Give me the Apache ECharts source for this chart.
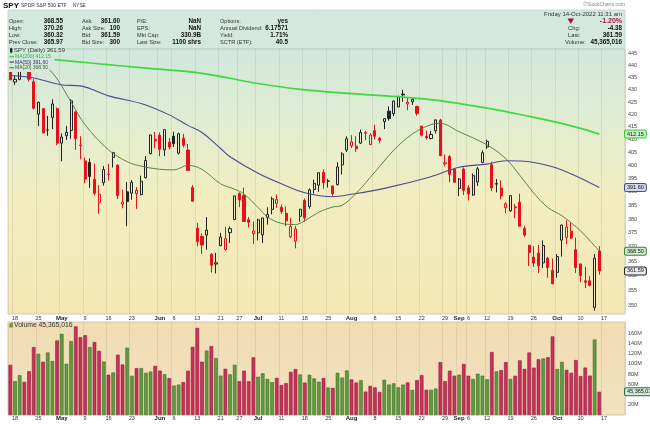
<!DOCTYPE html>
<html><head><meta charset="utf-8">
<script src="https://cdn.jsdelivr.net/npm/echarts@6/dist/echarts.min.js"></script>
<style>html,body{margin:0;padding:0;background:#fff}#c{width:650px;height:424px}</style>
</head><body><div id="c"></div>
<script>
// ---------- DATA (dividend-adjusted prices as drawn) ----------
const categories = ['04-14','04-18','04-19','04-20','04-21','04-22','04-25','04-26','04-27','04-28','04-29',
'05-02','05-03','05-04','05-05','05-06','05-09','05-10','05-11','05-12','05-13','05-16','05-17','05-18','05-19','05-20','05-23','05-24','05-25','05-26','05-27','05-31',
'06-01','06-02','06-03','06-06','06-07','06-08','06-09','06-10','06-13','06-14','06-15','06-16','06-17','06-21','06-22','06-23','06-24','06-27','06-28','06-29','06-30',
'07-01','07-05','07-06','07-07','07-08','07-11','07-12','07-13','07-14','07-15','07-18','07-19','07-20','07-21','07-22','07-25','07-26','07-27','07-28','07-29',
'08-01','08-02','08-03','08-04','08-05','08-08','08-09','08-10','08-11','08-12','08-15','08-16','08-17','08-18','08-19','08-22','08-23','08-24','08-25','08-26','08-29','08-30','08-31',
'09-01','09-02','09-06','09-07','09-08','09-09','09-12','09-13','09-14','09-15','09-16','09-19','09-20','09-21','09-22','09-23','09-26','09-27','09-28','09-29','09-30',
'10-03','10-04','10-05','10-06','10-07','10-10','10-11','10-12','10-13','10-14',
'10-17','10-18','10-19','10-20','10-21'];

const opens = [439.8,433.2,434.2,443.2,444.8,433.3,420.1,422.3,413.8,418.8,422.3,
408.6,411.5,413.6,421.0,407.7,401.7,401.1,394.7,386.1,393.4,396.6,403.1,400.1,385.4,390.0,389.5,389.3,389.0,395.3,404.5,410.1,
411.7,406.0,409.0,411.3,404.7,410.5,405.9,391.6,376.7,373.7,374.2,367.4,364.0,370.4,369.1,375.1,379.8,389.4,388.6,379.7,374.7,
375.0,374.3,380.5,383.5,385.7,384.3,382.1,373.6,372.1,381.0,386.8,384.5,390.9,392.5,397.3,394.1,392.2,392.7,400.2,405.9,
407.5,407.4,408.6,412.7,408.0,413.5,410.5,417.1,421.3,420.3,423.0,428.2,424.2,425.1,423.2,415.3,411.2,410.4,413.5,417.7,400.6,403.4,398.6,
391.3,398.6,391.5,388.8,393.7,401.1,407.1,400.2,392.9,391.4,384.1,383.0,384.4,386.1,376.6,370.6,366.4,367.8,364.4,366.0,361.8,
361.1,372.4,373.3,375.6,369.0,364.0,358.2,358.2,349.2,368.55];

const highs = [441.0,436.1,442.1,443.8,446.3,434.4,425.1,422.5,419.4,426.1,422.8,
412.4,415.4,426.1,421.4,411.3,403.0,402.7,400.7,392.5,399.8,400.6,405.2,400.4,390.8,393.7,394.4,391.8,396.1,403.6,411.9,413.0,
412.8,414.0,410.6,413.1,412.7,412.3,408.3,392.5,378.6,374.8,380.7,367.8,367.9,375.0,377.2,377.3,388.5,389.8,391.6,380.7,379.1,
380.1,380.4,384.3,388.2,389.0,385.3,384.6,380.4,377.5,383.7,387.5,391.3,394.6,397.2,398.5,394.8,392.4,401.2,405.1,411.3,
411.7,411.3,414.0,413.4,412.5,415.9,411.1,418.4,423.2,425.5,427.6,430.0,426.9,426.9,423.5,415.3,413.5,413.4,417.8,418.2,404.2,403.9,398.9,
395.2,399.2,392.5,396.9,399.4,405.8,410.0,401.4,394.8,394.3,386.2,388.7,385.4,389.3,377.6,370.6,370.2,370.7,372.3,366.5,365.9,
367.5,378.0,379.5,378.7,373.3,364.2,363.0,359.8,367.5,370.26];

const lows = [434.0,432.0,434.0,439.8,433.4,421.9,415.3,412.6,411.5,414.1,407.8,
401.6,409.9,410.3,406.0,402.3,393.2,391.5,388.7,381.9,392.3,394.3,399.2,387.3,383.9,377.4,387.1,383.7,388.6,395.1,404.3,406.6,
403.5,403.6,406.1,407.1,404.2,407.0,398.1,386.5,370.2,367.5,369.0,361.0,360.7,370.3,368.7,371.4,379.8,384.3,379.0,376.9,371.0,
372.3,371.4,378.0,381.7,384.1,381.9,377.4,373.1,369.5,379.0,379.1,383.8,389.4,390.0,391.1,391.6,388.4,392.4,396.5,405.1,
406.7,405.2,408.3,409.8,407.9,410.1,408.5,414.1,417.5,419.3,422.9,425.1,421.7,423.8,419.5,411.2,410.1,410.1,412.4,403.6,399.6,393.6,393.4,
388.4,388.8,386.8,388.6,392.2,400.8,406.4,390.3,389.8,387.2,382.1,382.6,380.3,377.4,373.5,363.3,363.0,360.9,362.6,359.2,357.0,
359.3,366.6,371.0,372.8,360.9,357.7,355.7,356.3,348.1,360.32];

const closes = [434.1,434.3,441.3,441.0,434.4,422.5,424.9,412.6,413.8,424.2,408.6,
411.0,412.9,425.5,410.4,407.9,394.8,395.8,389.5,389.1,398.4,396.7,404.9,388.6,386.2,386.4,393.6,390.6,394.0,401.9,411.8,409.5,
406.2,413.9,407.1,408.4,412.3,407.8,398.1,386.5,371.9,370.7,376.0,363.6,364.4,373.5,372.9,376.5,388.5,387.0,379.1,378.8,375.7,
379.7,380.4,381.7,387.4,387.1,382.7,379.3,377.3,376.4,383.6,380.4,390.7,393.2,397.2,393.5,394.0,389.3,399.4,404.4,410.3,
409.1,406.4,412.8,412.5,411.8,411.3,409.7,418.3,418.3,425.4,427.1,427.9,424.9,426.1,420.4,411.7,410.7,412.0,417.8,403.7,401.0,396.6,393.6,
394.8,390.6,389.2,396.1,398.7,404.9,409.3,391.5,393.1,388.5,385.6,388.6,384.1,377.4,374.2,368.0,364.3,363.4,370.5,362.8,357.2,
366.6,377.8,377.1,373.2,362.8,360.0,357.7,356.6,366.0,361.59];

const prevCloseStart = 439.6;

// volume, millions of shares
const volumes = [97.9,66.0,77.8,64.7,85.4,132.5,119.6,103.9,122.0,105.4,145.5,
158.3,100.0,144.2,172.9,151.8,155.6,132.5,142.4,125.1,104.2,78.6,83.0,117.7,98.5,131.4,76.4,91.4,91.5,82.2,84.8,95.9,
86.6,79.6,71.9,57.5,59.3,64.4,86.3,132.9,170.0,104.0,125.7,134.5,111.1,76.8,90.1,79.3,98.1,66.0,86.5,65.7,112.5,
74.8,81.4,70.4,64.0,72.4,58.4,62.2,84.2,89.7,79.1,63.2,78.5,71.4,64.9,72.2,53.6,52.9,82.3,73.0,86.9,
69.4,63.4,67.8,45.7,56.8,53.9,44.9,68.7,59.4,61.7,54.0,59.3,63.6,49.0,68.0,77.7,49.2,49.2,51.6,103.1,65.9,86.4,76.6,
78.7,99.6,76.6,70.4,80.6,76.7,69.7,122.9,85.1,87.6,103.1,70.4,76.5,106.6,89.9,122.0,92.4,108.6,110.3,112.7,153.4,
89.8,103.6,88.1,82.3,107.3,76.0,92.5,76.9,147.3,45.365016];

const ma200 = [['04-14',443.8],['04-29',442.5],['05-12',440.8],['05-26',439.0],['06-14',436.8],['07-01',432.6],
['07-15',430.2],['08-01',428.4],['08-16',427.0],['08-25',425.8],['09-12',422.5],['09-23',419.2],['10-03',416.8],
['10-10',414.4],['10-14',412.15]];
const ma50 = [['04-14',435.9],['04-22',434.9],['05-02',432.0],['05-06',431.6],['05-16',427.5],['05-25',424.4],
['06-03',419.8],['06-09',415.6],['06-14',412.8],['06-21',406.5],['06-23',403.3],['07-01',397.0],['07-11',393.0],
['07-18',389.7],['07-26',388.2],['08-01',389.1],['08-10',391.3],['08-24',395.7],['09-01',399.3],['09-12',400.5],
['09-16',401.8],['09-23',401.4],['09-30',399.5],['10-07',396.0],['10-14',391.6]];
const ma20 = [['04-25',441.0],['04-27',438.9],['04-29',434.5],['05-04',425.0],['05-09',415.8],['05-16',406.0],
['05-20',401.4],['05-25',399.7],['06-01',398.5],['06-06',398.3],['06-09',400.0],['06-14',398.5],['06-21',393.0],
['06-24',391.0],['06-28',389.2],['07-01',384.2],['07-06',380.8],['07-11',378.4],['07-14',378.0],['07-18',379.4],
['07-21',382.5],['07-26',384.4],['07-28',385.0],['08-02',389.5],['08-08',397.5],['08-12',405.8],['08-18',412.2],
['08-24',415.9],['08-26',416.4],['09-01',413.1],['09-12',407.9],['09-16',402.6],['09-21',396.2],['09-26',389.5],
['09-29',384.2],['10-04',381.2],['10-07',377.2],['10-11',374.0],['10-14',368.5]];

const priceTicks = [350,355,360,365,370,375,380,385,390,395,400,405,410,415,420,425,430,435,440,445];
const tickDates = ['04-18','04-25','05-02','05-09','05-16','05-23','06-01','06-06','06-13','06-21','06-27','07-01',
'07-11','07-18','07-25','08-01','08-08','08-15','08-22','08-29','09-01','09-06','09-12','09-19','09-26','10-03','10-10','10-17'];
const tickTexts = ['18','25','May','9','16','23','Jun','6','13','21','27','Jul','11','18','25','Aug','8','15','22','29',
'Sep','6','12','19','26','Oct','10','17'];

// ---------- BUILD ----------
const FF = "'Liberation Sans', Arial, Helvetica, sans-serif";
const tickSet = new Set(tickDates);
const tickMap = {}; tickDates.forEach((d, i) => tickMap[d] = tickTexts[i]);
const isMonth = t => /^[A-Z]/.test(t);
const xIntervalFn = (i, v) => tickSet.has(v);
function xLabel(margin) {
  return {
    interval: xIntervalFn, margin, fontSize: 5.5, color: '#333', fontFamily: FF,
    formatter: v => { const t = tickMap[v] || ''; return isMonth(t) ? '{m|' + t + '}' : t; },
    rich: { m: { fontWeight: 'bold', fontSize: 6, color: '#222', fontFamily: FF } }
  };
}

const candleData = opens.map((o, i) => {
  const c = closes[i], prev = i === 0 ? prevCloseStart : closes[i - 1];
  const col = c >= prev ? '#222222' : '#e3121b';
  const fill = c >= o ? 'rgba(0,0,0,0)' : col;
  return { value: [o, c, lows[i], highs[i]], itemStyle: { color: fill, color0: fill, borderColor: col, borderColor0: col, borderWidth: 1 } };
});
const volData = volumes.map((v, i) => {
  const c = closes[i], prev = i === 0 ? prevCloseStart : closes[i - 1];
  const up = c >= prev;
  return { value: v, itemStyle: { color: up ? '#5f9a3e' : '#cc2f5c', borderColor: up ? '#3d6e27' : '#8c1d3d', borderWidth: 0.6 } };
});

const lastClose = closes[closes.length - 1];
const lastVol = volumes[volumes.length - 1];
const last = a => a[a.length - 1][1];

const clearLine = { color: 'rgba(0,0,0,0)', width: 0 };
function boxLabel(bg, border, fmt) {
  return { show: true, position: 'end', distance: 0, formatter: fmt, fontSize: 5.5, fontFamily: FF, color: '#111',
    backgroundColor: bg, borderColor: border, borderWidth: 1, borderRadius: 1.5, padding: [1, 2, 0, 2] };
}

const priceGrad = { type: 'linear', x: 0, y: 49, x2: 0, y2: 314, global: true, colorStops: [
  { offset: 0, color: '#d1e8de' }, { offset: 0.3, color: '#e3edd0' }, { offset: 0.55, color: '#f1eec0' }, { offset: 1, color: '#f4e6b4' }] };
const volGrad = { type: 'linear', x: 0, y: 322, x2: 0, y2: 415, global: true, colorStops: [
  { offset: 0, color: '#f1dcb3' }, { offset: 1, color: '#f2e2bf' }] };

function txt(text, x, y, size, opt) {
  return { type: 'text', x, y, z: 100, silent: true,
    style: Object.assign({ text, fontSize: size, fontFamily: FF, fill: '#333', align: 'left', verticalAlign: 'middle' }, opt || {}) };
}
function rect(x, y, w, h, fill, z, stroke) {
  const r = { type: 'rect', z, silent: true, shape: { x, y, width: w, height: h }, style: { fill } };
  if (stroke) { r.style.stroke = stroke; r.style.lineWidth = 0.8; }
  return r;
}

const rows = [21, 28, 35, 42];
const infoCols = [
  { lx: 9, vx: 63, labels: ['Open:', 'High:', 'Low:', 'Prev Close:'], values: ['368.55', '370.26', '360.32', '365.97'] },
  { lx: 82, vx: 120, labels: ['Ask:', 'Ask Size:', 'Bid:', 'Bid Size:'], values: ['361.60', '100', '361.59', '300'] },
  { lx: 137, vx: 201, labels: ['P/E:', 'EPS:', 'Mkt Cap:', 'Last Size:'], values: ['NaN', 'NaN', '330.9B', '1100 shrs'] },
  { lx: 220, vx: 288, labels: ['Options:', 'Annual Dividend:', 'Yield:', 'SCTR (ETF):'], values: ['yes', '6.17571', '1.71%', '40.5'] }
];

const g = [];
g.push(rect(8, 49, 617, 265, priceGrad, 0, '#c4c4b4'));
g.push(rect(8, 322, 617, 93, volGrad, 0, '#c8bca0'));
g.push(rect(8, 10, 617, 38.5, '#d3e9de', 0, '#bcd4c7'));
// header
g.push(txt('SPY', 3, 5.5, 8, { fontWeight: 'bold', fill: '#111' }));
g.push(txt('SPDR S&P 500 ETF', 21, 5.8, 5, { fill: '#333' }));
g.push(txt('NYSE', 73, 6, 4.6, { fill: '#333' }));
g.push(txt('\u00a9StockCharts.com', 625, 5, 5, { fill: '#888', align: 'right' }));
// info box
infoCols.forEach(col => {
  col.labels.forEach((l, i) => g.push(txt(l, col.lx, rows[i], 5.6, { fill: '#333' })));
  col.values.forEach((v, i) => g.push(txt(v, col.vx, rows[i], 6.3, { fill: '#111', fontWeight: 'bold', align: 'right' })));
});
g.push(txt('Friday 14-Oct-2022 11:31 am', 622, 14.3, 6, { align: 'right', fill: '#333' }));
g.push({ type: 'polygon', z: 100, silent: true, shape: { points: [[567.5, 18.5], [574, 18.5], [570.75, 24]] }, style: { fill: '#a50f3c' } });
g.push(txt('-1.20%', 622, 21, 7, { align: 'right', fill: '#b0103c', fontWeight: 'bold' }));
[['Chg:', '-4.38'], ['Last:', '361.59'], ['Volume:', '45,365,016']].forEach((p, i) => {
  g.push(txt(p[0], i === 2 ? 565 : 568, rows[i + 1], 5.8, { fill: '#333' }));
  g.push(txt(p[1], 622, rows[i + 1], 6.3, { align: 'right', fill: '#111', fontWeight: 'bold' }));
});
// price legend rows (opaque, same gradient as panel)
g.push(rect(8.5, 49, 56, 4.5, priceGrad, 90));
g.push(rect(8.5, 53.5, 46, 5.6, priceGrad, 90));
g.push(rect(8.5, 59.1, 46, 5.6, priceGrad, 90));
g.push(rect(8.5, 64.7, 41, 7.3, priceGrad, 90));
g.push(rect(10, 48.3, 2.4, 4.2, '#222', 100));
g.push(rect(10.9, 47.4, 0.6, 6, '#222', 100));
g.push(txt('SPY (Daily) 361.59', 14, 50.6, 6, { fill: '#333' }));
g.push(rect(9.5, 55.8, 4.5, 1.5, '#3fd93f', 100));
g.push(txt('MA(200) 412.15', 15, 56.7, 5, { fill: '#33b533' }));
g.push(rect(9.5, 61.4, 4.5, 1.3, '#4b4b8f', 100));
g.push(txt('MA(50) 391.60', 15, 62.2, 5, { fill: '#2f2f7f' }));
g.push(rect(9.5, 67.2, 4.5, 1.1, '#487a36', 100));
g.push(txt('MA(20) 368.50', 15, 68, 5, { fill: '#3a5f30' }));
// volume legend
g.push(rect(9.5, 323.5, 1.4, 4, '#3d8a2a', 100));
g.push(rect(11.3, 322.5, 1.4, 5, '#3d8a2a', 100));
g.push(txt('Volume 45,365,016', 14, 325.5, 6.8, { fill: '#333' }));

const chart = echarts.init(document.getElementById('c'), null, { renderer: 'canvas', width: 650, height: 424 });
chart.setOption({
  animation: false,
  backgroundColor: '#ffffff',
  textStyle: { fontFamily: FF },
  graphic: { elements: g },
  grid: [
    { left: 8, right: 25, top: 49, height: 265, show: false },
    { left: 8, right: 25, top: 322, height: 93, show: false }
  ],
  xAxis: [
    { type: 'category', gridIndex: 0, data: categories, boundaryGap: true,
      axisLine: { show: false }, axisTick: { show: false }, axisLabel: xLabel(1),
      splitLine: { show: true, interval: xIntervalFn, lineStyle: { color: 'rgba(0,0,0,0.07)', width: 1 } } },
    { type: 'category', gridIndex: 1, data: categories, boundaryGap: true,
      axisLine: { show: false }, axisTick: { show: false }, axisLabel: xLabel(0),
      splitLine: { show: true, interval: xIntervalFn, lineStyle: { color: 'rgba(0,0,0,0.07)', width: 1 } } }
  ],
  yAxis: [
    { type: 'log', logBase: 10, gridIndex: 0, min: 347.0, max: 447.1, position: 'right',
      axisLabel: { show: false }, axisTick: { show: false }, axisLine: { show: false }, splitLine: { show: false } },
    { type: 'value', gridIndex: 1, min: 0, max: 181.5, interval: 20, position: 'right',
      axisLabel: { fontSize: 5.5, color: '#444', margin: 3, fontFamily: FF, formatter: v => (v === 0 || v > 170) ? '' : v + 'M' },
      axisTick: { show: false }, axisLine: { show: false }, splitLine: { show: false } }
  ],
  series: [
    { type: 'candlestick', name: 'SPY', xAxisIndex: 0, yAxisIndex: 0, z: 3, barWidth: 2.6, data: candleData,
      markLine: { silent: true, symbol: ['none', 'none'], animation: false, lineStyle: clearLine,
        label: { show: true, position: 'end', distance: 3, fontSize: 5.5, color: '#444', fontFamily: FF, formatter: p => String(p.value) },
        emphasis: { disabled: true },
        data: priceTicks.map(v => ({ yAxis: v })).concat([
          { yAxis: lastClose, label: boxLabel('#e9ecef', '#222', () => lastClose.toFixed(2)) }]) } },
    { type: 'line', name: 'MA200', xAxisIndex: 0, yAxisIndex: 0, z: 4, data: ma200, symbol: 'none', smooth: 0.35,
      lineStyle: { color: '#3fd93f', width: 1.7 },
      markLine: { silent: true, symbol: ['none', 'none'], lineStyle: clearLine, emphasis: { disabled: true },
        label: boxLabel('#caf2ca', '#2fcf2f', () => last(ma200).toFixed(2)), data: [{ yAxis: last(ma200) }] } },
    { type: 'line', name: 'MA50', xAxisIndex: 0, yAxisIndex: 0, z: 4, data: ma50, symbol: 'none', smooth: 0.35,
      lineStyle: { color: '#4b4b8f', width: 1.1 },
      markLine: { silent: true, symbol: ['none', 'none'], lineStyle: clearLine, emphasis: { disabled: true },
        label: boxLabel('#d3d8f0', '#4b4b8f', () => last(ma50).toFixed(2)), data: [{ yAxis: last(ma50) }] } },
    { type: 'line', name: 'MA20', xAxisIndex: 0, yAxisIndex: 0, z: 4, data: ma20, symbol: 'none', smooth: 0.35,
      lineStyle: { color: '#487a36', width: 0.9 },
      markLine: { silent: true, symbol: ['none', 'none'], lineStyle: clearLine, emphasis: { disabled: true },
        label: boxLabel('#cdeccd', '#3f7f3f', () => last(ma20).toFixed(2)), data: [{ yAxis: last(ma20) }] } },
    { type: 'bar', name: 'Volume', xAxisIndex: 1, yAxisIndex: 1, z: 3, barWidth: 3.6, data: volData,
      markLine: { silent: true, symbol: ['none', 'none'], lineStyle: clearLine, emphasis: { disabled: true },
        label: boxLabel('#cfe9d6', '#2e6b4a', () => Math.round(lastVol * 1e6).toLocaleString('en-US')),
        data: [{ yAxis: lastVol }] } }
  ]
});
</script>
</body></html>
